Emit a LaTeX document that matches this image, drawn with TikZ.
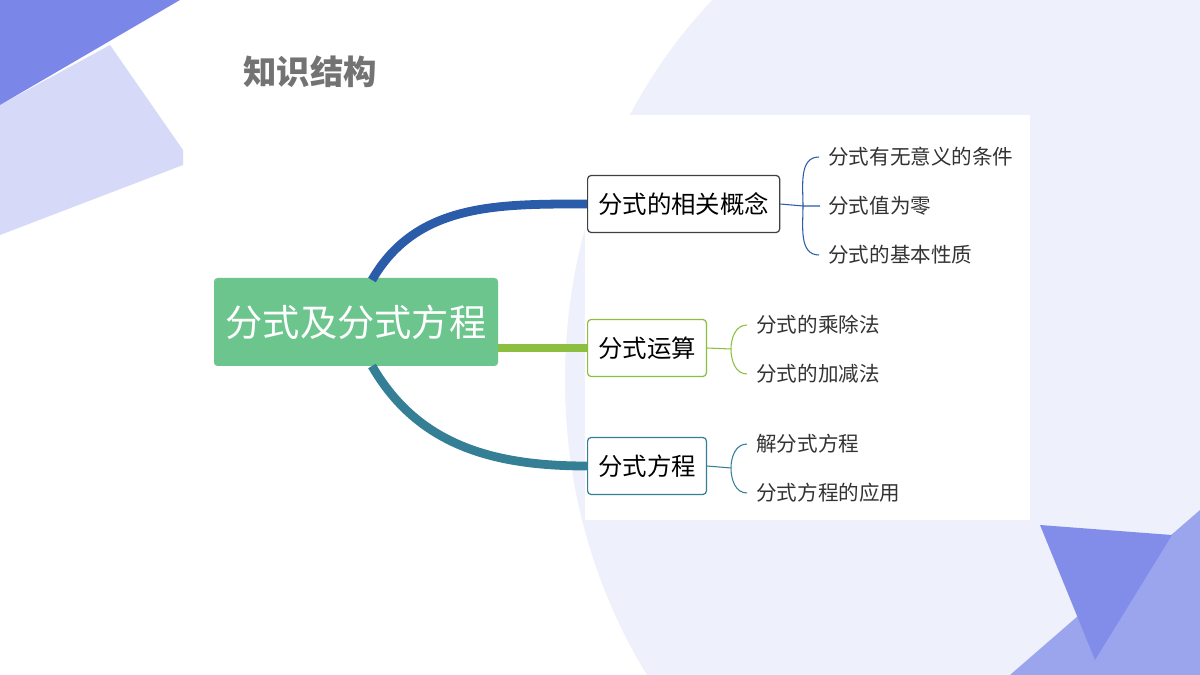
\documentclass[tikz,border=0pt]{standalone}
\usepackage{fontspec}
\setmainfont{Noto Sans CJK SC}
\usetikzlibrary{positioning}
\definecolor{dkblue}{HTML}{7A87E8}
\definecolor{ltblue}{HTML}{D6DAF8}
\definecolor{bgblue}{HTML}{EEF1FB}
\definecolor{rootgreen}{HTML}{6CC58C}
\definecolor{bblue}{HTML}{2A5CAA}
\definecolor{bgreen}{HTML}{8CBF3F}
\definecolor{bteal}{HTML}{347F95}
\begin{document}
\begin{tikzpicture}[
    x=0.02cm, y=-0.02cm,
    branch/.style={draw=#1, rounded corners=2pt, minimum height=57*0.02cm, inner xsep=6pt, font=\fontsize{13.9}{16}\selectfont, line width=0.7pt},
    leaf/.style={anchor=west, inner sep=0pt, font=\fontsize{11.7}{13}\selectfont, text=black!80},
    limb/.style={line width=5pt},
    brace/.style={draw=#1, line width=0.6pt}
    ]
    % background
    \useasboundingbox (0,0) rectangle (1200,675);
    \fill[white] (0,0) rectangle (1200,675);
    \begin{scope}
        \clip (0,0) rectangle (1200,675);
        \fill[bgblue] (1040,380) ellipse [x radius=475, y radius=525];
        \fill[ltblue] (0,105) -- (110,45) -- (183,150) -- (183,165) -- (0,235) -- cycle;
        \fill[dkblue] (0,0) -- (180,0) -- (0,105) -- cycle;
        \fill[dkblue!75] (1010,675) -- (1200,510) -- (1200,675) -- cycle;
        \fill[dkblue!95] (1040,525) -- (1172,535) -- (1095,660) -- cycle;
    \end{scope}
    \fill[white] (585,115) rectangle (1030,520);

    \node[text=black!55, font=\fontsize{19}{22}\selectfont\bfseries] (title) at (310,72) {知识结构};

    % root and branches
    \node[fill=rootgreen, text=white, rounded corners=2pt, minimum width=284*0.02cm, minimum height=88*0.02cm, font=\fontsize{21.2}{24}\selectfont] (root) at (356,322) {分式及分式方程};
    \node[branch=black!75, anchor=west] (concept) at (587,204) {分式的相关概念};
    \node[branch=bgreen, anchor=west] (calc) at (587,348) {分式运算};
    \node[branch=bteal, anchor=west] (eqn) at (587,466) {分式方程};

    \draw[limb, bblue] (372,280) to[out=60,in=180] (concept.west);
    \draw[limb, bgreen] (root.east |- calc) -- (calc.west);
    \draw[limb, bteal] (372,366) to[out=-60,in=180] (eqn.west);

    % leaves
    \node[leaf] (c1) at (828,157) {分式有无意义的条件};
    \node[leaf] (c2) at (828,206) {分式值为零};
    \node[leaf] (c3) at (828,255) {分式的基本性质};
    \node[leaf] (k1) at (756,325) {分式的乘除法};
    \node[leaf] (k2) at (756,374) {分式的加减法};
    \node[leaf] (e1) at (756,444) {解分式方程};
    \node[leaf] (e2) at (756,493) {分式方程的应用};

    \coordinate (ch) at (803,206);
    \draw[brace=bblue] (concept.east) -- (ch) (ch) to[out=90,in=180] ++(16,-49) (ch) -- ([xshift=-8*0.02cm]c2.west) (ch) to[out=-90,in=180] ++(16,49);
    \coordinate (kh) at (731,349);
    \draw[brace=bgreen] (calc.east) -- (kh) (kh) to[out=90,in=180] ++(16,-24) (kh) to[out=-90,in=180] ++(16,25);
    \coordinate (eh) at (731,468);
    \draw[brace=bteal] (eqn.east) -- (eh) (eh) to[out=90,in=180] ++(16,-24) (eh) to[out=-90,in=180] ++(16,25);
\end{tikzpicture}
\end{document}
